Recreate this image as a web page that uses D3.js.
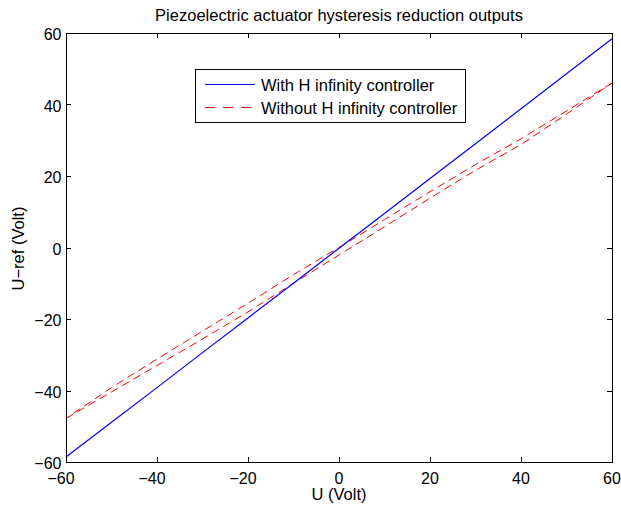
<!DOCTYPE html>
<html>
<head>
<meta charset="utf-8">
<script src="https://cdn.jsdelivr.net/npm/d3@7"></script>
<style>
  body { margin: 0; background: #fff; }
  text { font-family: "Liberation Sans", Arial, Helvetica, sans-serif; }
</style>
</head>
<body>
<div id="chart"></div>
<script>
// data
const uValues = [-60, -50, -40, -30, -20, -10, 0, 10, 20, 30, 40, 50, 60];
const withHinf = [-58.6, -48.9, -39.2, -29.4, -19.7, -10.0, -0.2, 9.5, 19.3, 29.0, 38.8, 48.6, 58.4];
// hysteresis loop: ascending (lower) and descending (upper) branch
const withoutHinfUp = [-47.8, -40.4, -33.0, -25.6, -18.0, -10.0, -2.1, 5.8, 13.8, 21.6, 28.8, 37.3, 46.0];
const withoutHinfDown = [-47.8, -39.2, -31.2, -23.4, -15.6, -7.6, 0.0, 7.8, 15.6, 23.2, 30.4, 38.2, 46.0];
const xTicks = [-60, -40, -20, 0, 20, 40, 60];
const yTicks = [-60, -40, -20, 0, 20, 40, 60];
const legendLabels = ["With H infinity controller", "Without H infinity controller"];

const width = 621, height = 508;
const margin = { top: 33, right: 9, bottom: 46, left: 66 };
const innerWidth = width - margin.left - margin.right;
const innerHeight = height - margin.top - margin.bottom;

const svg = d3.select("#chart").append("svg")
    .attr("width", width)
    .attr("height", height);

const g = svg.append("g")
    .attr("transform", `translate(${margin.left},${margin.top})`);

const x = d3.scaleLinear().domain([-60, 60]).range([0, innerWidth]);
const y = d3.scaleLinear().domain([-60, 60]).range([innerHeight, 0]);

const fmt = d => (d < 0 ? "\u2212" + Math.abs(d) : String(d));

// 曲线
const line = d3.line().x(d => x(d[0])).y(d => y(d[1]));

g.append("path")
    .datum(uValues.map((u, i) => [u, withoutHinfUp[i]]))
    .attr("fill", "none")
    .attr("stroke", "#ff0000")
    .attr("stroke-width", 1)
    .attr("stroke-dasharray", "8,5")
    .attr("d", line);

g.append("path")
    .datum(uValues.map((u, i) => [u, withoutHinfDown[i]]).reverse())
    .attr("fill", "none")
    .attr("stroke", "#ff0000")
    .attr("stroke-width", 1)
    .attr("stroke-dasharray", "8,5")
    .attr("d", line);

g.append("path")
    .datum(uValues.map((u, i) => [u, withHinf[i]]))
    .attr("fill", "none")
    .attr("stroke", "#0000ff")
    .attr("stroke-width", 1.2)
    .attr("d", line);

// axes (MATLAB style, ticks inside on all sides)
const tickLen = 5;
const axes = g.append("g").attr("stroke", "#000").attr("stroke-width", 1);
axes.append("rect")
    .attr("x", 0.5).attr("y", 0.5)
    .attr("width", innerWidth).attr("height", innerHeight)
    .attr("fill", "none");

xTicks.forEach(t => {
    const px = Math.round(x(t)) + 0.5;
    axes.append("line").attr("x1", px).attr("x2", px).attr("y1", innerHeight).attr("y2", innerHeight - tickLen);
    axes.append("line").attr("x1", px).attr("x2", px).attr("y1", 0).attr("y2", tickLen);
});
yTicks.forEach(t => {
    const py = Math.round(y(t)) + 0.5;
    axes.append("line").attr("x1", 0).attr("x2", tickLen).attr("y1", py).attr("y2", py);
    axes.append("line").attr("x1", innerWidth).attr("x2", innerWidth - tickLen).attr("y1", py).attr("y2", py);
});

g.selectAll(".xlab").data(xTicks).enter().append("text")
    .attr("x", d => x(d) - (d < 0 ? 5 : 0))
    .attr("y", innerHeight + 22)
    .attr("text-anchor", "middle")
    .attr("font-size", 16)
    .text(fmt);

g.selectAll(".ylab").data(yTicks).enter().append("text")
    .attr("x", -4.5)
    .attr("y", d => y(d) + 7)
    .attr("text-anchor", "end")
    .attr("font-size", 16)
    .text(fmt);

// titles
g.append("text")
    .attr("x", innerWidth / 2)
    .attr("y", -12)
    .attr("text-anchor", "middle")
    .attr("font-size", 16.5)
    .text("Piezoelectric actuator hysteresis reduction outputs");

g.append("text")
    .attr("x", innerWidth / 2)
    .attr("y", innerHeight + 38)
    .attr("text-anchor", "middle")
    .attr("font-size", 16.5)
    .text("U (Volt)");

g.append("text")
    .attr("transform", `translate(${-42},${innerHeight / 2 + 1}) rotate(-90)`)
    .attr("text-anchor", "middle")
    .attr("font-size", 16.5)
    .text("U\u2212ref (Volt)");

// legend
const lg = svg.append("g").attr("transform", "translate(195,69)");
lg.append("rect")
    .attr("x", 0.5).attr("y", 0.5)
    .attr("width", 270).attr("height", 53)
    .attr("fill", "#fff")
    .attr("stroke", "#000");
const legendStyles = [
    { color: "#0000ff", dash: null },
    { color: "#ff0000", dash: "10,8" }
];
legendLabels.forEach((lab, i) => {
    const cy = 15.5 + i * 23;
    lg.append("line")
        .attr("x1", 10).attr("x2", 60)
        .attr("y1", cy).attr("y2", cy)
        .attr("stroke", legendStyles[i].color)
        .attr("stroke-dasharray", legendStyles[i].dash);
    lg.append("text")
        .attr("x", 66)
        .attr("y", cy + 6)
        .attr("font-size", 16.5)
        .text(lab);
});
</script>
</body>
</html>
